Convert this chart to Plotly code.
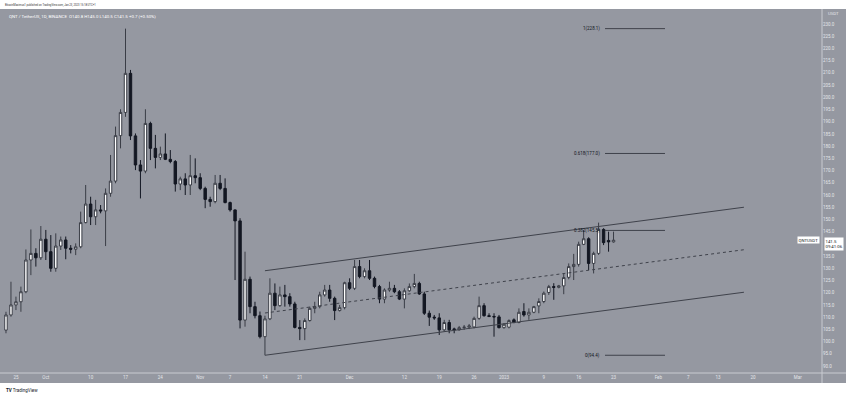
import pandas as pd
import plotly.graph_objects as go

# ---------------- data ----------------
dates = pd.date_range("2022-09-23", periods=123, freq="D")

opens = [104.7, 110.9, 115.0, 116.3, 120.4, 133.4, 136.1, 134.3, 141.9, 136.8,
         130.0, 139.1, 141.6, 138.2, 137.8, 138.8, 148.7, 156.3, 151.1, 153.9,
         153.5, 160.7, 165.7, 184.3, 193.8, 209.8, 184.2, 172.3, 169.8, 189.3,
         179.1, 175.4, 176.8, 174.6, 173.7, 164.5, 166.6, 164.1, 167.9, 167.1,
         162.7, 158.2, 157.3, 164.8, 162.7, 156.9, 153.9, 149.4, 108.8, 125.5,
         114.3, 110.6, 102.0, 109.3, 119.8, 114.7, 119.1, 118.4, 115.4, 105.8,
         105.3, 108.6, 113.6, 114.3, 119.1, 121.1, 117.7, 112.7, 113.9, 124.1,
         121.8, 130.7, 126.6, 129.0, 125.9, 122.5, 117.4, 121.1, 121.8, 120.4,
         117.4, 120.8, 122.5, 123.8, 119.5, 111.6, 110.0, 109.7, 104.8, 107.8,
         105.2, 104.8, 105.7, 105.9, 106.0, 109.5, 114.7, 110.6, 110.3, 110.1,
         105.7, 105.9, 108.9, 107.8, 112.3, 110.9, 112.0, 114.6, 116.4, 120.1,
         122.5, 122.2, 122.8, 126.3, 130.7, 131.6, 139.8, 142.1, 132.0, 136.1,
         145.9, 141.4, 140.8]
highs = [112.2, 124.5, 118.4, 122.5, 137.7, 145.9, 138.2, 147.3, 145.7, 143.6,
         144.3, 143.0, 143.0, 139.5, 140.2, 153.2, 164.1, 159.3, 158.0, 155.9,
         162.7, 176.4, 188.0, 195.1, 228.1, 211.2, 185.2, 174.3, 195.1, 190.0,
         184.6, 179.8, 185.2, 178.4, 174.3, 167.5, 168.9, 176.4, 175.0, 168.9,
         163.4, 159.3, 168.2, 168.2, 166.8, 157.3, 154.1, 150.5, 136.8, 126.6,
         116.3, 112.3, 110.6, 125.9, 123.8, 122.5, 123.2, 119.8, 116.3, 108.8,
         109.5, 114.3, 116.3, 120.4, 123.2, 123.2, 118.4, 115.0, 124.5, 125.9,
         133.4, 133.4, 130.0, 133.4, 126.6, 123.2, 121.8, 124.5, 123.2, 121.1,
         121.8, 123.8, 127.7, 124.5, 120.4, 112.7, 110.9, 111.6, 108.9, 108.9,
         105.7, 106.4, 106.8, 107.2, 110.2, 118.4, 115.7, 111.6, 111.6, 110.9,
         107.5, 109.1, 109.5, 113.6, 115.7, 113.6, 114.6, 117.7, 120.5, 123.2,
         123.9, 123.2, 128.0, 132.0, 135.9, 140.9, 145.7, 142.7, 136.8, 148.7,
         146.4, 145.0, 145.0]
lows = [103.4, 110.2, 112.9, 112.2, 119.8, 127.2, 130.7, 133.4, 133.4, 128.6,
        128.6, 137.5, 133.7, 136.1, 135.4, 138.2, 148.4, 147.7, 147.7, 152.5,
        139.1, 159.3, 164.8, 179.1, 192.0, 182.5, 170.2, 158.6, 168.9, 174.3,
        170.9, 174.3, 174.3, 173.0, 161.4, 162.0, 160.0, 160.0, 164.8, 162.0,
        154.6, 155.2, 156.6, 162.0, 156.6, 153.2, 125.2, 105.4, 106.1, 111.6,
        109.5, 101.3, 94.4, 108.8, 112.9, 114.3, 114.3, 114.3, 105.4, 100.6,
        100.6, 108.2, 111.6, 113.6, 118.4, 116.3, 108.8, 112.3, 113.2, 121.1,
        121.1, 125.9, 125.9, 125.2, 121.8, 115.7, 115.7, 120.4, 119.8, 117.0,
        113.6, 120.4, 121.8, 119.1, 110.9, 106.4, 108.9, 102.7, 104.1, 103.4,
        103.4, 104.5, 104.8, 105.1, 105.4, 108.9, 110.2, 110.0, 102.0, 105.4,
        105.3, 105.4, 107.5, 107.5, 110.2, 108.9, 111.6, 111.6, 115.7, 119.1,
        117.1, 121.8, 119.4, 125.5, 125.2, 130.7, 139.5, 129.3, 127.9, 135.5,
        139.5, 136.8, 140.5]
closes = [110.9, 115.0, 116.3, 120.4, 133.4, 136.1, 134.3, 141.9, 136.8, 130.0,
          139.1, 141.6, 138.2, 137.8, 138.8, 148.7, 156.3, 151.1, 153.9, 153.5,
          160.7, 165.7, 184.3, 193.8, 209.8, 184.2, 172.3, 169.8, 189.3, 179.1,
          175.4, 176.8, 174.6, 173.7, 164.5, 166.6, 164.1, 167.9, 167.1, 162.7,
          158.2, 157.3, 164.8, 162.7, 156.9, 153.9, 149.4, 108.8, 125.5, 114.3,
          110.6, 102.0, 109.3, 119.8, 114.7, 119.1, 118.4, 115.4, 105.8, 105.3,
          108.6, 113.6, 114.3, 119.1, 121.1, 117.7, 112.7, 113.9, 124.1, 121.8,
          130.7, 126.6, 129.0, 125.9, 122.5, 117.4, 121.1, 121.8, 120.4, 117.4,
          120.8, 122.5, 123.8, 119.5, 111.6, 110.0, 109.7, 104.8, 107.8, 104.8,
          104.8, 105.7, 105.9, 106.4, 109.5, 114.7, 110.6, 110.3, 110.1, 105.7,
          107.1, 108.6, 107.8, 112.0, 110.9, 112.0, 114.3, 116.4, 119.8, 122.5,
          122.2, 122.8, 126.2, 130.7, 131.6, 139.8, 142.1, 132.0, 136.1, 145.9,
          140.5, 140.8, 141.5]

# Fibonacci levels (ratio, price)
fib_ratios = ["1", "0.618", "0.382", "0"]
fib_prices = [228.1, 177.0, 145.5, 94.4]

# parallel channel (start/end dates, prices)
chan_dates = ["2022-11-14", "2023-02-18 04:30"]
chan_upper = [129.0, 155.0]
chan_lower = [94.4, 120.2]

tick_dates = ["2022-09-25", "2022-10-01", "2022-10-10", "2022-10-17", "2022-10-24",
              "2022-11-01", "2022-11-07", "2022-11-14", "2022-11-21", "2022-12-01",
              "2022-12-12", "2022-12-19", "2022-12-26", "2023-01-01", "2023-01-09",
              "2023-01-16", "2023-01-23", "2023-02-01", "2023-02-07", "2023-02-13",
              "2023-02-20", "2023-03-01"]
tick_text = ["25", "Oct", "10", "17", "24", "Nov", "7", "14", "21", "Dec", "12",
             "19", "26", "2023", "9", "16", "23", "Feb", "7", "13", "20", "Mar"]
# 140.0 is hidden behind the last-price label in the reference
price_ticks = [v for v in range(90, 231, 5) if v != 140]

# ---------------- style ----------------
BG = "rgb(149,152,161)"
DARK = "#131722"
WICK = "#3a3d46"
LIGHT = "#e4e6ea"
LINE = "#3f424b"
W, H = 850, 396
L, R, T, B = 0, 28, 9, 23
PW, PH = W - L - R, H - T - B


def px2paper(px, py):
    return (px - L) / PW, (H - B - py) / PH


fig = go.Figure()
fig.add_trace(go.Candlestick(
    x=dates, open=opens, high=highs, low=lows, close=closes,
    increasing=dict(fillcolor="#ffffff", line=dict(color=WICK, width=1)),
    decreasing=dict(fillcolor=DARK, line=dict(color=DARK, width=1)),
    whiskerwidth=0, showlegend=False, hoverinfo="skip",
))

shapes = []
# background panel covering plot, price axis and time axis
x1p, _ = px2paper(846, 0)
_, y0p = px2paper(0, 383)
shapes.append(dict(type="rect", xref="paper", yref="paper", x0=0, x1=x1p,
                   y0=y0p, y1=1, fillcolor=BG, line=dict(width=0), layer="below"))
# separators
shapes.append(dict(type="line", xref="paper", yref="paper", x0=1, x1=1, y0=y0p, y1=1,
                   line=dict(color="#c9cbd1", width=1)))
shapes.append(dict(type="line", xref="paper", yref="paper", x0=0, x1=x1p, y0=0, y1=0,
                   line=dict(color="#c9cbd1", width=1)))

# channel
mid = [(u + l) / 2 for u, l in zip(chan_upper, chan_lower)]
for ys, dash in [(chan_upper, "solid"), (chan_lower, "solid"), (mid, "dot")]:
    shapes.append(dict(type="line", xref="x", yref="y",
                       x0=chan_dates[0], x1=chan_dates[1], y0=ys[0], y1=ys[1],
                       line=dict(color=LINE, width=1, dash=dash)))

# fib lines
for p in fib_prices:
    shapes.append(dict(type="line", xref="x", yref="y",
                       x0="2023-01-21 07:00", x1="2023-02-02 08:00", y0=p, y1=p,
                       line=dict(color=LINE, width=1)))

annotations = []
for r, p in zip(fib_ratios, fib_prices):
    annotations.append(dict(x="2023-01-20 16:00", y=p, xref="x", yref="y",
                            text=f"{r}({p:.1f})", showarrow=False, xanchor="right",
                            yanchor="middle", font=dict(size=4.5, color=DARK,
                                                        family="Roboto")))

# header texts
hx, hy = px2paper(3, 5)
annotations.append(dict(x=hx, y=hy, xref="paper", yref="paper", showarrow=False,
                        xanchor="left", yanchor="middle",
                        text="BitcoinMaximus1 published on TradingView.com, Jan 23, 2023 15:18 UTC+1",
                        font=dict(size=2.7, color="#333333", family="Roboto")))
hx, hy = px2paper(7, 16)
annotations.append(dict(x=hx, y=hy, xref="paper", yref="paper", showarrow=False,
                        xanchor="left", yanchor="middle",
                        text=f"QNT / TetherUS, 1D, BINANCE  O{opens[-1]:.1f} H{highs[-1]:.1f} "
                             f"L{lows[-1]:.1f} C{closes[-1]:.1f} +0.7 (+0.50%)",
                        font=dict(size=4.4, color="#ffffff", family="Roboto")))
# USDT
ux, uy = px2paper(826, 14)
annotations.append(dict(x=ux, y=uy, xref="paper", yref="paper", showarrow=False,
                        xanchor="left", yanchor="middle", text="USDT",
                        font=dict(size=4.3, color=LIGHT, family="Roboto")))
# last price labels
annotations.append(dict(x=1.002, y=closes[-1], xref="paper", yref="y", showarrow=False,
                        xanchor="left", yanchor="top", yshift=3.5, align="left",
                        text=f"{closes[-1]:.1f}<br>09:41:06", bgcolor="#ffffff",
                        borderpad=0.5, font=dict(size=4.3, color=DARK, family="Roboto")))
annotations.append(dict(x=0.998, y=closes[-1], xref="paper", yref="y", showarrow=False,
                        xanchor="right", yanchor="middle", text="QNTUSDT",
                        bgcolor="#ffffff", borderpad=0.5,
                        font=dict(size=4.3, color=DARK, family="Roboto")))
# TradingView logo text
lx, ly = px2paper(4, 390)
annotations.append(dict(x=lx, y=ly, xref="paper", yref="paper", showarrow=False,
                        xanchor="left", yanchor="middle",
                        text="<b>TV</b> TradingView",
                        font=dict(size=4.5, color="#131722", family="Roboto")))

fig.update_layout(
    width=W, height=H,
    margin=dict(l=L, r=R, t=T, b=B, pad=0, autoexpand=False),
    paper_bgcolor="#ffffff", plot_bgcolor=BG,
    shapes=shapes, annotations=annotations,
    xaxis=dict(range=["2022-09-21 19:10", "2023-03-05 20:40"],
               rangeslider=dict(visible=False), showgrid=False, zeroline=False,
               tickmode="array", tickvals=tick_dates, ticktext=tick_text,
               ticks="", tickfont=dict(size=4.5, color=LIGHT, family="Roboto"),
               showline=False, automargin=False, fixedrange=True),
    yaxis=dict(range=[87.14, 236.14], side="right", showgrid=False, zeroline=False,
               tickmode="array", tickvals=price_ticks,
               ticktext=[f"{v:.1f}" for v in price_ticks], ticks="",
               tickfont=dict(size=4.5, color=LIGHT, family="Roboto"),
               showline=False, automargin=False, fixedrange=True),
    font=dict(family="Roboto"),
)

# remove the browser's default page margin so the figure sits at the top-left corner
fig.write_html("out.html", config={"displayModeBar": False},
               post_script="document.body.style.margin='0';"
                           "document.body.style.overflow='hidden';")
